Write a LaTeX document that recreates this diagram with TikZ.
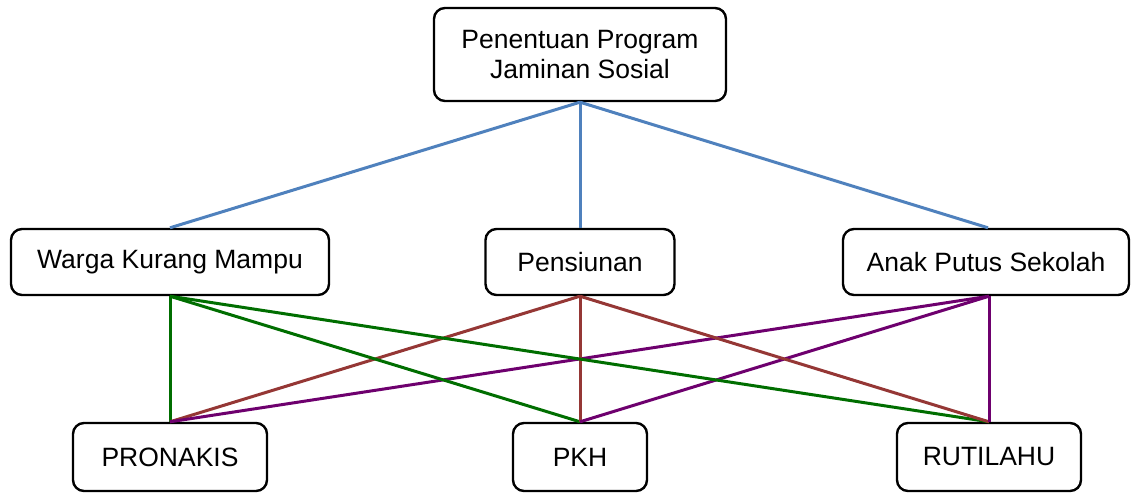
\documentclass[tikz,border=0pt]{standalone}
\usepackage{fontspec}
\setmainfont{Liberation Sans}
\definecolor{cblue}{HTML}{4F81BD}
\definecolor{cgreen}{HTML}{006E00}
\definecolor{cbrown}{HTML}{953735}
\definecolor{cpurple}{HTML}{6E006E}
\begin{document}
\begin{tikzpicture}[x=1pt,y=1pt,
  box/.style={draw=black,line width=2.4pt,rounded corners=11pt,fill=white,inner sep=0pt,
    align=center,font=\fontsize{26.5}{30}\selectfont},
  conn/.style={line width=3pt}]
\useasboundingbox (0,0) rectangle (1131,-494);
\node[box,minimum width=292pt,minimum height=93pt] (top) at (580,-54.5) {Penentuan Program\\Jaminan Sosial};
\node[box,minimum width=318pt,minimum height=66pt] (warga) at (170,-262) {Warga Kurang Mampu};
\node[box,minimum width=189pt,minimum height=66pt] (pens) at (580,-262) {Pensiunan};
\node[box,minimum width=286pt,minimum height=66pt] (anak) at (986,-262) {Anak Putus Sekolah};
\node[box,minimum width=194pt,minimum height=68pt] (pron) at (170,-457) {PRONAKIS};
\node[box,minimum width=134pt,minimum height=68pt] (pkh) at (580,-457) {PKH};
\node[box,minimum width=184pt,minimum height=68pt] (ruti) at (989,-457) {RUTILAHU};
\coordinate (as) at ([xshift=3pt]anak.south);
\coordinate (an) at ([xshift=2pt]anak.north);
\draw[conn,cblue] (top.south) -- (warga.north);
\draw[conn,cblue] (top.south) -- (pens.north);
\draw[conn,cblue] (top.south) -- (an);
\foreach \n in {pron,pkh,ruti}{
  \draw[conn,cgreen] (warga.south) -- (\n.north);
  \draw[conn,cbrown] (pens.south) -- (\n.north);
  \draw[conn,cpurple] (as) -- (\n.north);
}
\end{tikzpicture}
\end{document}
